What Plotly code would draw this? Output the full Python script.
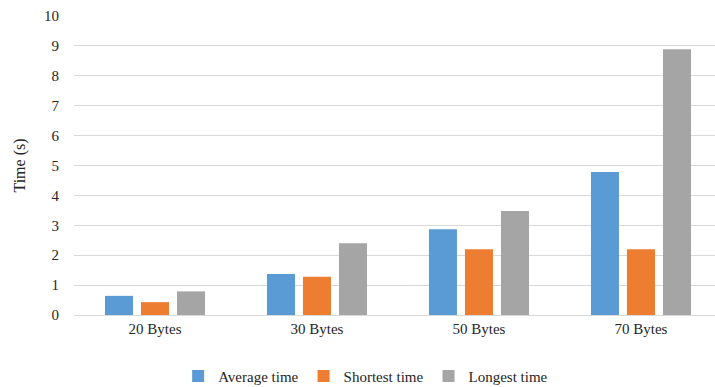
import plotly.graph_objects as go

categories = ["20 Bytes", "30 Bytes", "50 Bytes", "70 Bytes"]
average_time = [0.64, 1.37, 2.87, 4.78]
shortest_time = [0.43, 1.28, 2.2, 2.2]
longest_time = [0.79, 2.4, 3.48, 8.89]
y_ticks = list(range(0, 11))

series = [
    ("Average time", average_time, "#5b9bd5"),
    ("Shortest time", shortest_time, "#ed7d31"),
    ("Longest time", longest_time, "#a5a5a5"),
]

FAMILY = "Liberation Serif"
font = dict(family=FAMILY, size=15, color="#262626")

fig = go.Figure()
for name, vals, color in series:
    fig.add_trace(go.Bar(
        x=list(range(len(categories))), y=vals, name=name,
        marker=dict(color=color, line=dict(width=0)),
    ))

fig.update_layout(
    width=715, height=387,
    margin=dict(l=74, r=0, t=16, b=72, autoexpand=False),
    paper_bgcolor="white", plot_bgcolor="white",
    font=font,
    barmode="group", bargap=0.333, bargroupgap=0.222,
    showlegend=True,
    legend=dict(orientation="h", x=0.455, xanchor="center",
                yref="container", y=0.028, yanchor="middle",
                font=dict(size=15, family=FAMILY), itemwidth=30, tracegroupgap=0),
    xaxis=dict(
        tickmode="array", tickvals=list(range(len(categories))), ticktext=categories,
        range=[-0.5, 3.457], showgrid=False, showline=True, linecolor="#d9d9d9",
        linewidth=1, ticks="", zeroline=False,
        tickfont=dict(family=FAMILY, size=15),
    ),
    yaxis=dict(
        range=[0, 10], tickvals=y_ticks, showgrid=True, gridcolor="#d9d9d9",
        gridwidth=1, zeroline=False, showline=False, ticks="",
        ticklabelstandoff=14,
        tickfont=dict(family=FAMILY, size=15),
        title=dict(text="Time (s)", standoff=14,
                   font=dict(size=16, family=FAMILY)),
    ),
)

fig.write_html("out.html")
